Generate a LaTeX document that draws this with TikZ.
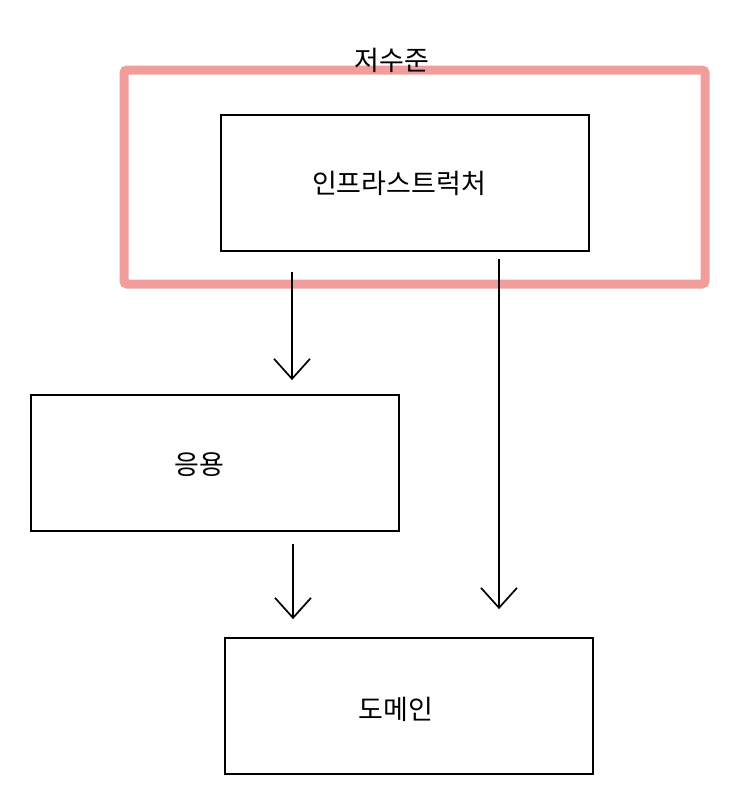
\documentclass[tikz,border=0pt]{standalone}
\usepackage{fontspec}
\newfontfamily\kr{Noto Sans CJK KR}
\usetikzlibrary{arrows.meta}
\definecolor{lowpink}{RGB}{240,157,155}
\begin{document}
\begin{tikzpicture}[x=1pt,y=-1pt,
  box/.style={draw, line width=1.8pt, minimum width=368pt, minimum height=136pt, inner sep=0pt},
  txt/.style={inner sep=0pt, font=\kr\fontsize{27}{31}\selectfont},
  conn/.style={line width=1.7pt, -{Straight Barb[length=20pt,width=36pt,line width=1.7pt]}}]
\useasboundingbox[fill=white] (0,0) rectangle (745,804);
% low-level container
\node[draw=lowpink, line width=9pt, rounded corners=3pt, minimum width=581pt, minimum height=214pt, inner sep=0pt] (low) at (414.5,177) {};
\node[txt] (lowlabel) at (392,60) {저수준};
% boxes
\node[box] (infra) at (405,183) {};
\node[txt] (infratext) at (399,183) {인프라스트럭처};
\node[box] (app) at (215,463) {};
\node[txt] (apptext) at (199,465) {응용};
\node[box] (dom) at (409,706) {};
\node[txt] (domtext) at (396,709) {도메인};
% connectors
\draw[conn, shorten <=20pt, shorten >=14pt] ([xshift=-113pt]infra.south) -- ([xshift=77pt]app.north);
\draw[conn, shorten <=12pt, shorten >=18pt] ([xshift=78pt]app.south) -- ([xshift=-116pt]dom.north);
\draw[conn, shorten <=7pt, shorten >=28pt] ([xshift=94pt]infra.south) -- ([xshift=90pt]dom.north);
\end{tikzpicture}
\end{document}
